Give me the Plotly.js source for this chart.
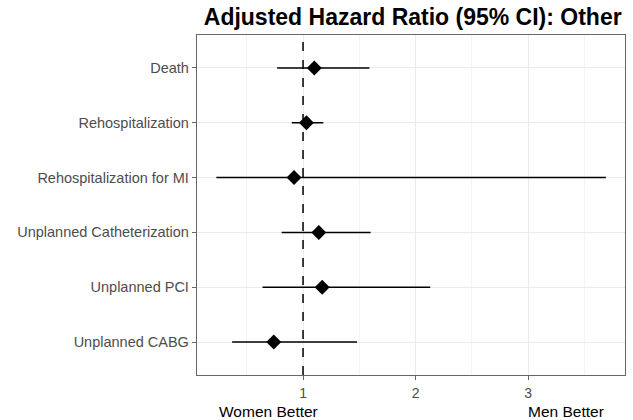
<!DOCTYPE html>
<html>
<head>
<meta charset="utf-8">
<script src="https://cdn.plot.ly/plotly-3.0.1.min.js"></script>
<style>html,body{margin:0;padding:0;background:#fff;}#chart{width:633px;height:420px;}</style>
</head>
<body>
<div id="chart"></div>
<script>
const outcomes = ["Death", "Rehospitalization", "Rehospitalization for MI", "Unplanned Catheterization", "Unplanned PCI", "Unplanned CABG"];
const hr = [1.10, 1.03, 0.92, 1.14, 1.17, 0.74];
const lower = [0.77, 0.90, 0.23, 0.81, 0.64, 0.37];
const upper = [1.59, 1.18, 3.69, 1.60, 2.13, 1.48];
const xTicks = [1, 2, 3];
const xLeftLabel = "Women Better";
const xRightLabel = "Men Better";
const titleText = "Adjusted Hazard Ratio (95% CI): Other";

const errPlus = hr.map((v, i) => upper[i] - v);
const errMinus = hr.map((v, i) => v - lower[i]);

const trace = {
  type: "scatter",
  mode: "markers",
  x: hr,
  y: outcomes,
  marker: {symbol: "diamond", size: 11.5, color: "#000"},
  error_x: {type: "data", symmetric: false, array: errPlus, arrayminus: errMinus, width: 0, thickness: 1.5, color: "#000"},
  hoverinfo: "x+y",
  showlegend: false
};

const layout = {
  width: 633, height: 420,
  margin: {l: 197, r: 8, t: 35, b: 45},
  paper_bgcolor: "#fff", plot_bgcolor: "#fff",
  font: {family: "Liberation Sans, Arial, sans-serif", size: 14, color: "#4d4d4d"},
  title: {text: "<b>" + titleText + "</b>", font: {size: 23, color: "#000"}, x: 0.652, xanchor: "center", y: 0.978, yanchor: "top"},
  xaxis: {
    range: [0.058, 3.86], tickvals: xTicks, ticktext: xTicks.map(String),
    showgrid: true, gridcolor: "#ebebeb", gridwidth: 1,
    minor: {tickvals: [0.5, 1.5, 2.5, 3.5], showgrid: true, gridcolor: "#f4f4f4", gridwidth: 1, ticks: ""},
    zeroline: false, showline: true, mirror: true, linecolor: "#666", linewidth: 1.2,
    ticks: "outside", ticklen: 4, tickcolor: "#666", tickwidth: 1,
    ticklabelstandoff: 1,
    tickfont: {size: 14, color: "#4d4d4d"}
  },
  yaxis: {
    type: "category", categoryorder: "array", categoryarray: outcomes,
    range: [5.6, -0.6],
    showgrid: true, gridcolor: "#ebebeb", gridwidth: 1,
    zeroline: false, showline: true, mirror: true, linecolor: "#666", linewidth: 1.2,
    ticks: "outside", ticklen: 4, tickcolor: "#666", tickwidth: 1,
    tickfont: {size: 14.5, color: "#4d4d4d"}
  },
  shapes: [{type: "line", xref: "x", yref: "paper", x0: 1, x1: 1, y0: 0, y1: 1, line: {color: "#000", width: 1.5, dash: "dash"}}],
  annotations: [
    {text: xLeftLabel, xref: "x", yref: "paper", x: 0.695, y: -0.106, yanchor: "middle", xanchor: "center", showarrow: false, font: {size: 15.5, color: "#000"}},
    {text: xRightLabel, xref: "x", yref: "paper", x: 3.34, y: -0.106, yanchor: "middle", xanchor: "center", showarrow: false, font: {size: 15.5, color: "#000"}}
  ]
};

Plotly.newPlot("chart", [trace], layout, {staticPlot: true});
</script>
</body>
</html>
